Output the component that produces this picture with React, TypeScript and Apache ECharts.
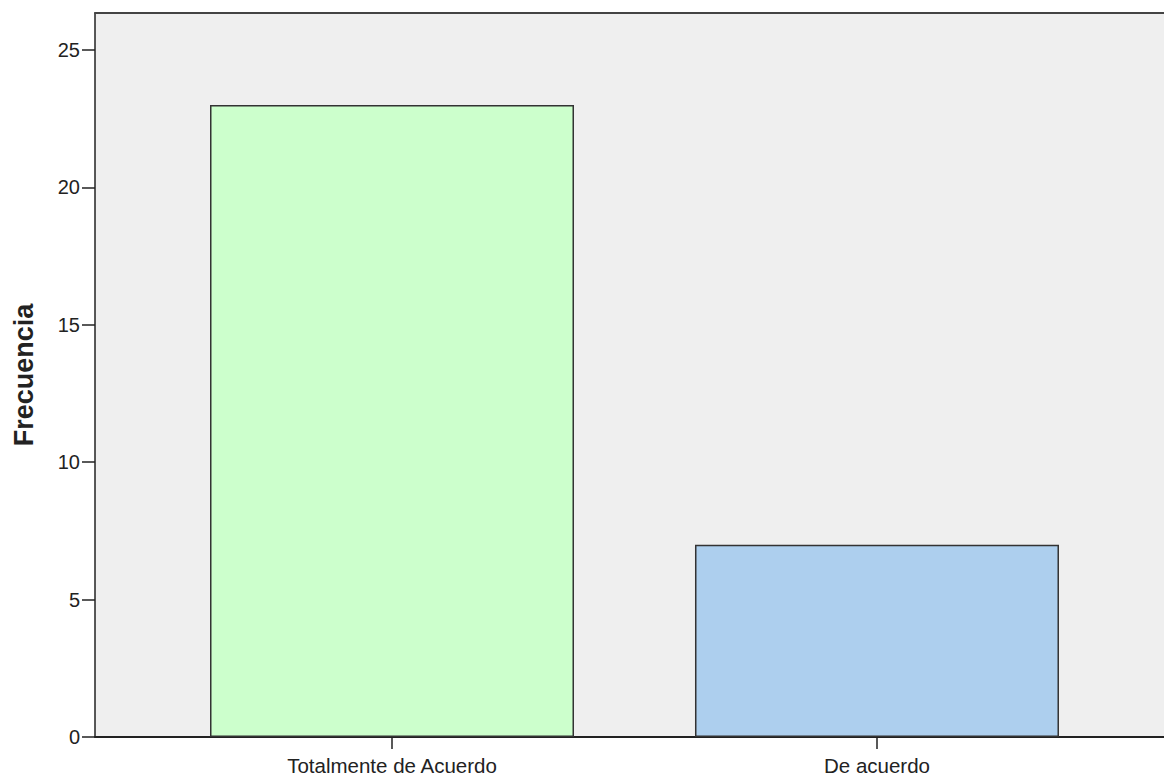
import React, { useEffect, useRef } from "react";
import * as echarts from "echarts";

// Response categories and their counts
const categories = ["Totalmente de Acuerdo", "De acuerdo"];
const frequencies = [23, 7];
const barColors = ["#CCFFCC", "#ADCFEE"];
const yTicks = [0, 5, 10, 15, 20, 25];

// Category positions on the horizontal value scale
const positions = [1, 2];

export default function App() {
  const ref = useRef<HTMLDivElement>(null);

  useEffect(() => {
    document.body.style.margin = "0";
    const chart = echarts.init(ref.current!, null, { renderer: "svg" });
    const font = "'Liberation Sans', Arial, sans-serif";
    chart.setOption({
      animation: false,
      backgroundColor: "#FFFFFF",
      grid: {
        left: 95,
        right: 0,
        top: 13,
        bottom: 39,
        show: true,
        backgroundColor: "#EFEFEF",
        borderWidth: 0,
        outerBoundsMode: "none",
        containLabel: false,
      },
      xAxis: [
        {
          type: "value",
          min: 0.3876,
          max: 2.5918,
          position: "bottom",
          splitLine: { show: false },
          axisLine: { show: true, lineStyle: { color: "#222", width: 2 } },
          axisTick: {
            show: true,
            length: 12,
            customValues: positions,
            lineStyle: { color: "#222", width: 1.5 },
          },
          axisLabel: {
            customValues: positions,
            margin: 18,
            fontFamily: font,
            fontSize: 20.5,
            color: "#222",
            formatter: (v: number) => categories[positions.indexOf(v)] ?? "",
          },
        },
        {
          type: "value",
          min: 0.3876,
          max: 2.5918,
          position: "top",
          splitLine: { show: false },
          axisLine: { show: true, onZero: false, lineStyle: { color: "#444", width: 2 } },
          axisTick: { show: false },
          axisLabel: { show: false },
        },
      ],
      yAxis: {
        type: "value",
        min: 0,
        max: 26.35,
        interval: 5,
        name: "Frecuencia",
        nameLocation: "middle",
        nameGap: 58,
        nameRotate: 90,
        nameTextStyle: {
          fontFamily: font,
          fontSize: 27,
          fontWeight: "bold",
          color: "#222",
        },
        splitLine: { show: false },
        axisLine: { show: true, lineStyle: { color: "#222", width: 1.5 } },
        axisTick: {
          show: true,
          length: 13,
          customValues: yTicks,
          lineStyle: { color: "#222", width: 1.5 },
        },
        axisLabel: {
          customValues: yTicks,
          margin: 15,
          fontFamily: font,
          fontSize: 20,
          color: "#222",
        },
      },
      series: [
        {
          type: "bar",
          xAxisIndex: 0,
          barWidth: 364,
          data: frequencies.map((f, i) => ({
            value: [positions[i], f],
            itemStyle: {
              color: barColors[i],
              borderColor: "#333",
              borderWidth: 1.5,
            },
          })),
        },
      ],
    });
    return () => chart.dispose();
  }, []);

  return (
    <div
      ref={ref}
      style={{ position: "absolute", left: 0, top: 0, width: 1164, height: 776 }}
    />
  );
}
